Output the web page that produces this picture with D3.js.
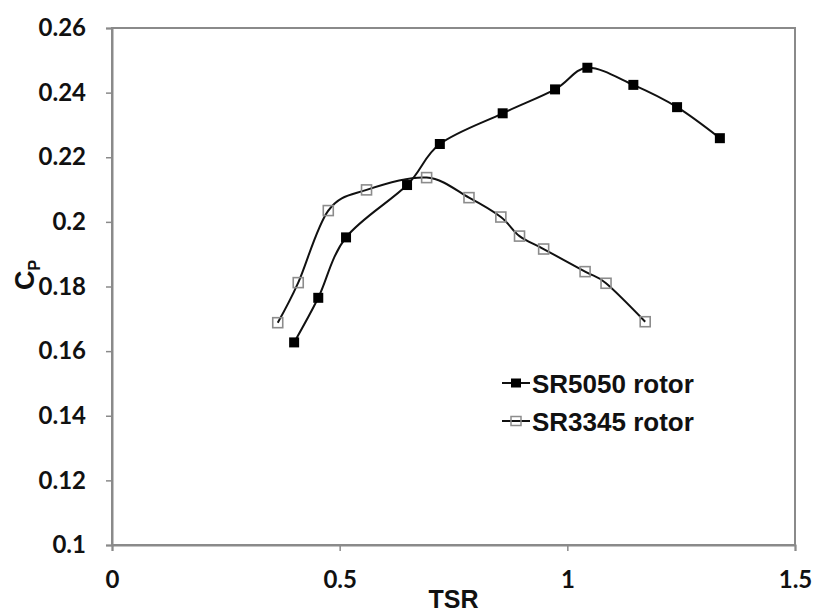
<!DOCTYPE html>
<html><head><meta charset="utf-8">
<script src="https://d3js.org/d3.v7.min.js"></script>
<style>body{margin:0;background:#fff}svg{display:block}</style>
</head><body>
<script>
const sr5050_tsr = [0.400, 0.453, 0.514, 0.648, 0.720, 0.858, 0.973, 1.044, 1.145, 1.241, 1.335];
const sr5050_cp  = [0.1627, 0.1765, 0.1952, 0.2114, 0.2241, 0.2336, 0.2410, 0.2477, 0.2424, 0.2355, 0.2259];
const sr3345_tsr = [0.364, 0.409, 0.475, 0.559, 0.691, 0.784, 0.854, 0.895, 0.948, 1.039, 1.085, 1.171];
const sr3345_cp  = [0.1688, 0.1812, 0.2035, 0.2099, 0.2137, 0.2075, 0.2015, 0.1956, 0.1916, 0.1846, 0.1810, 0.1691];
const xTicks = [0, 0.5, 1, 1.5];
const xTickLabels = ["0", "0.5", "1", "1.5"];
const yTicks = [0.1, 0.12, 0.14, 0.16, 0.18, 0.2, 0.22, 0.24, 0.26];
const yTickLabels = ["0.1", "0.12", "0.14", "0.16", "0.18", "0.2", "0.22", "0.24", "0.26"];
const seriesNames = ["SR5050 rotor", "SR3345 rotor"];

const W = 816, H = 614;
const m = {left: 112, top: 28, right: 21, bottom: 69};
const svg = d3.select("body").append("svg").attr("width", W).attr("height", H);
const x = d3.scaleLinear().domain([0, 1.5]).range([m.left, W - m.right]);
const y = d3.scaleLinear().domain([0.1, 0.26]).range([H - m.bottom, m.top]);
const axisCol = "#8a8a8a";

// plot box
svg.append("rect").attr("x", x(0)).attr("y", y(0.26))
  .attr("width", x(1.5) - x(0)).attr("height", y(0.1) - y(0.26))
  .attr("fill", "none").attr("stroke", axisCol).attr("stroke-width", 2);

const xAxis = svg.append("g").attr("transform", `translate(0,${y(0.1)})`)
  .call(d3.axisBottom(x).tickValues(xTicks).tickSize(6).tickFormat((d, i) => xTickLabels[i]));
const yAxis = svg.append("g").attr("transform", `translate(${x(0)},0)`)
  .call(d3.axisLeft(y).tickValues(yTicks).tickSize(6).tickFormat((d, i) => yTickLabels[i]));
[xAxis, yAxis].forEach(a => {
  a.select(".domain").attr("stroke", axisCol).attr("stroke-width", 2);
  a.selectAll(".tick line").attr("stroke", axisCol).attr("stroke-width", 1.5);
  a.selectAll("text").attr("fill", "#111").style("font-family", "Lato, 'Open Sans', sans-serif")
    .style("font-weight", "bold").style("font-size", "24px");
});
yAxis.selectAll("text").attr("x", -26);
xAxis.selectAll("text").attr("y", 26);

// axis titles
svg.append("text").attr("x", x(0.75)).attr("y", 608).attr("text-anchor", "middle")
  .style("font-family", "'Liberation Sans', Arial, sans-serif").style("font-weight", "bold")
  .style("font-size", "25px").attr("fill", "#111").text("TSR");
const yt = svg.append("text").attr("transform", "translate(34,290) rotate(-90)")
  .style("font-family", "'Liberation Sans', Arial, sans-serif").style("font-weight", "bold")
  .style("font-size", "27px").attr("fill", "#111");
yt.append("tspan").text("C");
yt.append("tspan").attr("dy", 6).style("font-size", "16px").text("P");

const line = d3.line().x(d => x(d[0])).y(d => y(d[1])).curve(d3.curveCardinal.tension(0));
const d1 = sr5050_tsr.map((v, i) => [v, sr5050_cp[i]]);
const d2 = sr3345_tsr.map((v, i) => [v, sr3345_cp[i]]);

svg.append("path").datum(d2).attr("d", line).attr("fill", "none").attr("stroke", "#111").attr("stroke-width", 2);
svg.append("path").datum(d1).attr("d", line).attr("fill", "none").attr("stroke", "#111").attr("stroke-width", 2);

const s = 10;
svg.selectAll(".m2").data(d2).join("rect")
  .attr("x", d => x(d[0]) - s / 2).attr("y", d => y(d[1]) - s / 2).attr("width", s).attr("height", s)
  .attr("fill", "none").attr("stroke", "#8c8c8c").attr("stroke-width", 1.6);
svg.selectAll(".m1").data(d1).join("rect")
  .attr("x", d => x(d[0]) - s / 2).attr("y", d => y(d[1]) - s / 2).attr("width", s).attr("height", s)
  .attr("fill", "#000");

// legend
const lg = svg.append("g");
const rows = [{y: 383, filled: true}, {y: 421, filled: false}];
rows.forEach((r, i) => {
  lg.append("line").attr("x1", 502).attr("x2", 530).attr("y1", r.y).attr("y2", r.y)
    .attr("stroke", "#111").attr("stroke-width", 2);
  lg.append("rect").attr("x", 516 - 5).attr("y", r.y - 4.5).attr("width", 10).attr("height", 9)
    .attr("fill", r.filled ? "#000" : "none").attr("stroke", r.filled ? "none" : "#8c8c8c").attr("stroke-width", 1.5);
  lg.append("text").attr("x", 532).attr("y", r.y + 9.5)
    .style("font-family", "'Liberation Sans', Arial, sans-serif").style("font-weight", "bold")
    .style("font-size", "26px").attr("fill", "#111").text(seriesNames[i]);
});
</script>
</body></html>
